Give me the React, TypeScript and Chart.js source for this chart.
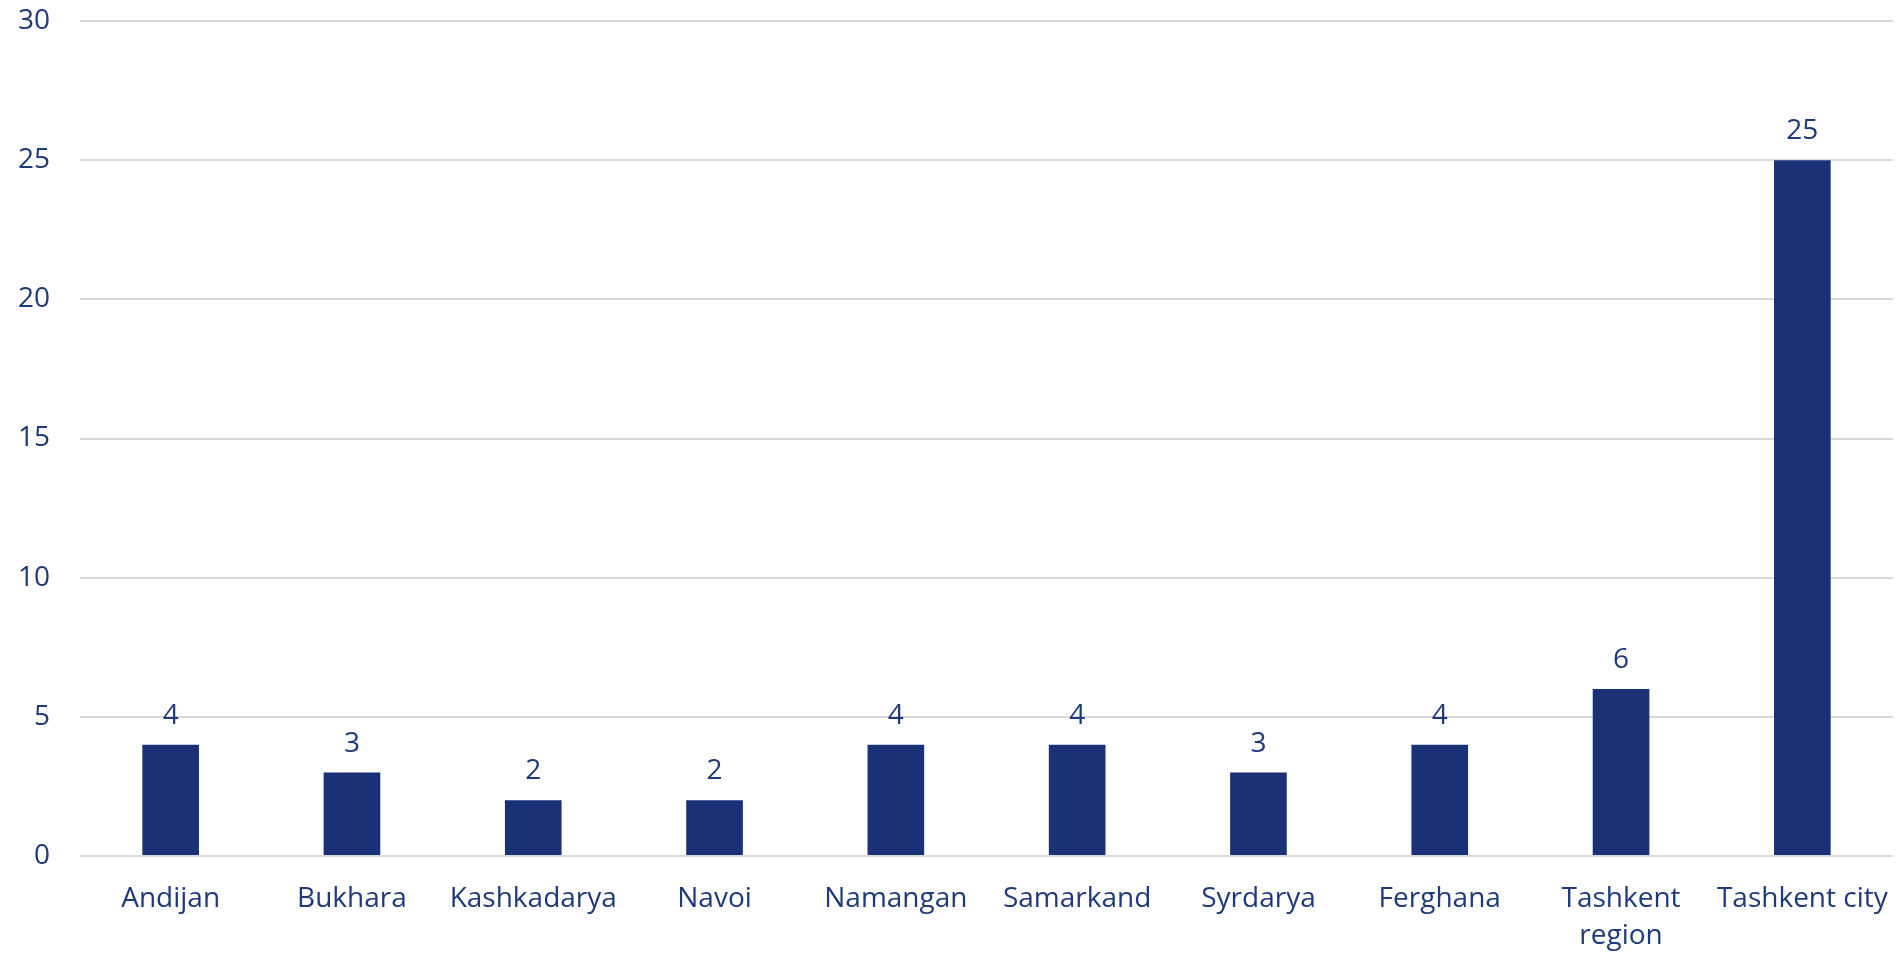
import React, { useEffect, useRef } from "react";
import { Chart, registerables } from "chart.js";

Chart.register(...registerables);

const categories: (string | string[])[] = [
  "Andijan",
  "Bukhara",
  "Kashkadarya",
  "Navoi",
  "Namangan",
  "Samarkand",
  "Syrdarya",
  "Ferghana",
  ["Tashkent", "region"],
  "Tashkent city",
];
const values: number[] = [4, 3, 2, 2, 4, 4, 3, 4, 6, 25];
const yMin = 0;
const yMax = 30;
const yStep = 5;

const BAR_COLOR = "#1b3177";
const TEXT_COLOR = "#1f3a7b";
const GRID_COLOR = "#d9d9d9";
const FONT_FAMILY = "'Open Sans', sans-serif";

const valueLabelPlugin = {
  id: "valueLabels",
  afterDatasetsDraw(chart: any) {
    const ctx = chart.ctx;
    const meta = chart.getDatasetMeta(0);
    ctx.save();
    ctx.fillStyle = TEXT_COLOR;
    ctx.font = `28px ${FONT_FAMILY}`;
    ctx.textAlign = "center";
    ctx.textBaseline = "alphabetic";
    meta.data.forEach((bar: any, i: number) => {
      const v = chart.data.datasets[0].data[i];
      ctx.fillText(String(v), bar.x, bar.y - 21);
    });
    ctx.restore();
  },
};

export default function App() {
  const canvasRef = useRef<HTMLCanvasElement | null>(null);

  useEffect(() => {
    if (!canvasRef.current) return;
    const chart = new Chart(canvasRef.current, {
      type: "bar",
      data: {
        labels: categories,
        datasets: [
          {
            data: values,
            backgroundColor: BAR_COLOR,
            borderWidth: 0,
            categoryPercentage: 1,
            barPercentage: 0.3125,
          },
        ],
      },
      options: {
        animation: false,
        responsive: true,
        maintainAspectRatio: false,
        layout: { padding: { top: 21, right: 10, left: 0, bottom: 0 } },
        plugins: {
          legend: { display: false },
          tooltip: { enabled: false },
        },
        scales: {
          x: {
            grid: { display: false, drawTicks: false },
            border: { display: false },
            ticks: {
              color: TEXT_COLOR,
              font: { family: FONT_FAMILY, size: 28, lineHeight: 1.3 },
              maxRotation: 0,
              minRotation: 0,
              autoSkip: false,
              padding: 25,
            },
            afterFit(scale: any) {
              scale.height = 98;
              scale.paddingLeft = 0;
              scale.paddingRight = 0;
            },
          },
          y: {
            min: yMin,
            max: yMax,
            grid: { color: GRID_COLOR, lineWidth: 2, drawTicks: false },
            border: { display: false },
            ticks: {
              stepSize: yStep,
              color: TEXT_COLOR,
              font: { family: FONT_FAMILY, size: 28 },
              padding: 30,
            },
            afterFit(scale: any) {
              scale.width = 80;
              scale.paddingTop = 0;
              scale.paddingBottom = 0;
            },
          },
        },
      },
      plugins: [valueLabelPlugin],
    });
    return () => chart.destroy();
  }, []);

  return (
    <div style={{ position: "fixed", left: 0, top: 0, width: 1903, height: 954, background: "#fff" }}>
      <canvas ref={canvasRef} />
    </div>
  );
}
